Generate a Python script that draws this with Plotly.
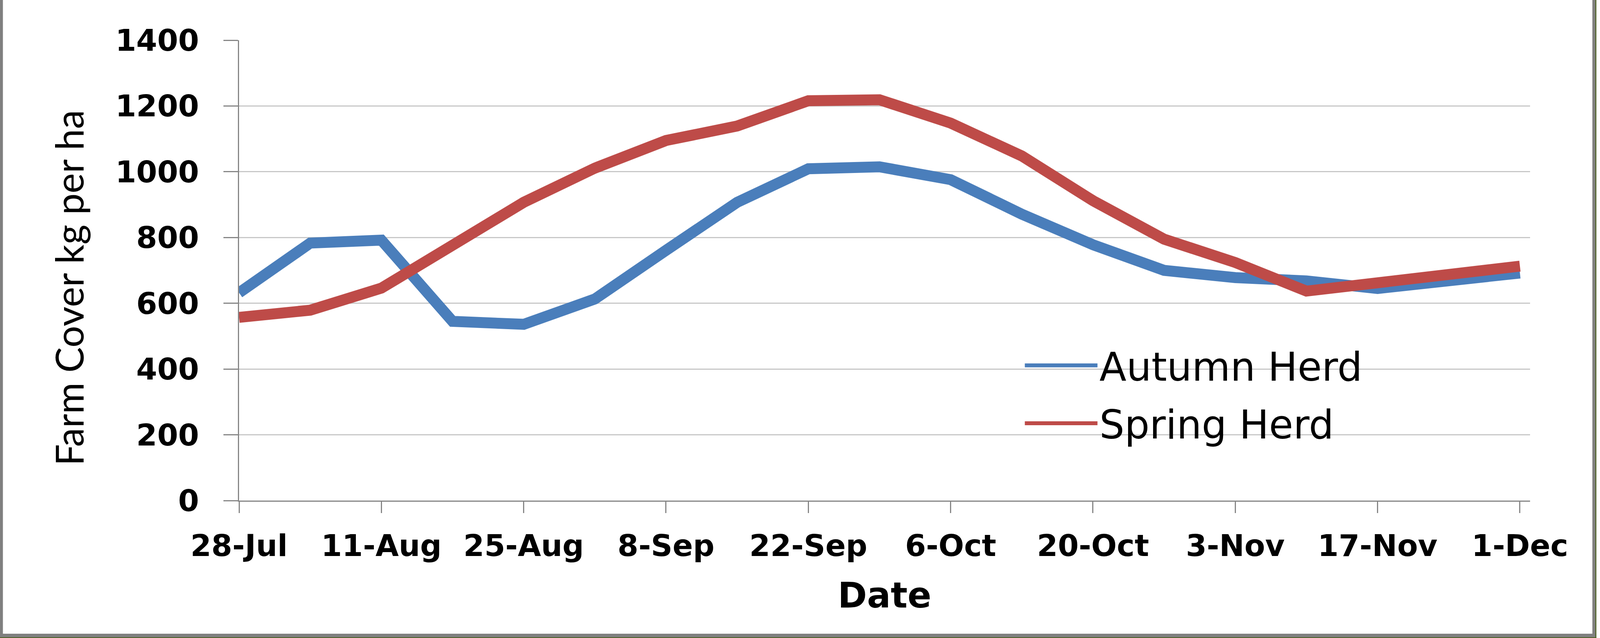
import plotly.graph_objects as go

dates = ["2013-07-28", "2013-08-04", "2013-08-11", "2013-08-18", "2013-08-25",
         "2013-09-01", "2013-09-08", "2013-09-15", "2013-09-22", "2013-09-29",
         "2013-10-06", "2013-10-13", "2013-10-20", "2013-10-27", "2013-11-03",
         "2013-11-10", "2013-11-17", "2013-11-24", "2013-12-01"]
autumn_herd = [632, 783, 792, 545, 536, 613, 761, 907, 1009, 1015,
               976, 871, 778, 700, 678, 668, 645, 670, 692]
spring_herd = [557, 579, 646, 780, 907, 1011, 1095, 1139, 1216, 1219,
               1148, 1048, 912, 795, 724, 637, 663, 694, 713]
tick_dates = ["2013-07-28", "2013-08-11", "2013-08-25", "2013-09-08", "2013-09-22",
              "2013-10-06", "2013-10-20", "2013-11-03", "2013-11-17", "2013-12-01"]
y_ticks = [0, 200, 400, 600, 800, 1000, 1200, 1400]
y_title = "Farm Cover kg per ha"
x_title = "Date"

# The browser viewport is 4096 px wide; the reference is 4399 px wide.
W, H = 4096, 1634
SX = W / 4399.0
L, R, T, B = round(657 * SX), round(192 * SX), 103, 352
pw, ph = W - L - R, H - T - B

def px_x(p):  # reference x pixel -> paper
    return (p * SX - L) / pw

def px_y(p):  # reference y pixel -> paper
    return (H - B - p) / ph

fig = go.Figure()
fig.add_trace(go.Scatter(x=dates, y=autumn_herd, mode="lines", name="Autumn Herd",
                         legendgroup="a",
                         line=dict(color="#4A7EBB", width=28)))
fig.add_trace(go.Scatter(x=dates, y=spring_herd, mode="lines", name="Spring Herd",
                         legendgroup="b",
                         line=dict(color="#BE4B48", width=28)))

tick_font = dict(family="DejaVu Sans", size=77, color="black", weight="bold")

fig.update_layout(
    width=W, height=H, autosize=False,
    margin=dict(l=L, r=R, t=T, b=B, autoexpand=False),
    paper_bgcolor="white", plot_bgcolor="white",
    showlegend=True,
    legend=dict(x=px_x(2823) - 10 / pw, y=px_y(1010), xanchor="left", yanchor="middle",
                bgcolor="rgba(0,0,0,0)", borderwidth=0, tracegroupgap=14,
                font=dict(family="DejaVu Sans", size=101, color="black"),
                itemwidth=186),
    xaxis=dict(type="date", range=["2013-07-28", "2013-12-02"], automargin=False,
               tickvals=tick_dates, tickformat="%-d-%b",
               tickfont=tick_font, ticks="outside", ticklen=29, tickwidth=3,
               tickcolor="#868686", showline=True, linecolor="#868686", linewidth=3,
               showgrid=False, zeroline=False, ticklabelstandoff=18,
               title=dict(text=x_title, font=dict(family="DejaVu Sans", size=90,
                                                  color="black", weight="bold"),
                          standoff=52)),
    yaxis=dict(range=[0, 1400], tickvals=y_ticks, automargin=False,
               tickfont=tick_font, ticks="outside", ticklen=37, tickwidth=3,
               tickcolor="#868686", showline=True, linecolor="#868686", linewidth=3,
               showgrid=True, gridcolor="#C8C8C8", gridwidth=3, zeroline=False,
               ticklabelstandoff=47),
)

# y-axis title, placed a little below the plot centre as in the reference
fig.add_annotation(text=y_title, textangle=-90, showarrow=False,
                   xref="paper", yref="paper", x=px_x(189), y=px_y(737),
                   xanchor="center", yanchor="middle",
                   font=dict(family="Lato", size=98, color="black"))

# white legend box hiding the gridlines behind the legend
fig.add_shape(type="rect", xref="paper", yref="paper", layer="between",
              x0=px_x(2718), x1=px_x(3862), y0=px_y(1195), y1=px_y(835),
              fillcolor="white", line=dict(width=0))

# chart frame: gray left/right/bottom edge with a thin green outer line
frame = [
    (0, 0, 8, 1634, "#808080"),
    (4378, 0, 4386, 1632, "#808080"),
    (4386, 0, 4389, 1634, "#4F6228"),
    (0, 1623, 4386, 1632, "#808080"),
    (0, 1632, 4389, 1634, "#4F6228"),
]
for x0, y0, x1, y1, c in frame:
    fig.add_shape(type="rect", xref="paper", yref="paper",
                  x0=px_x(x0), x1=px_x(x1), y0=px_y(y1), y1=px_y(y0),
                  fillcolor=c, line=dict(width=0), layer="above")

fig.write_html("out.html", config={"displayModeBar": False},
               post_script="document.body.style.margin='0';"
                           "document.body.style.overflow='hidden';")
